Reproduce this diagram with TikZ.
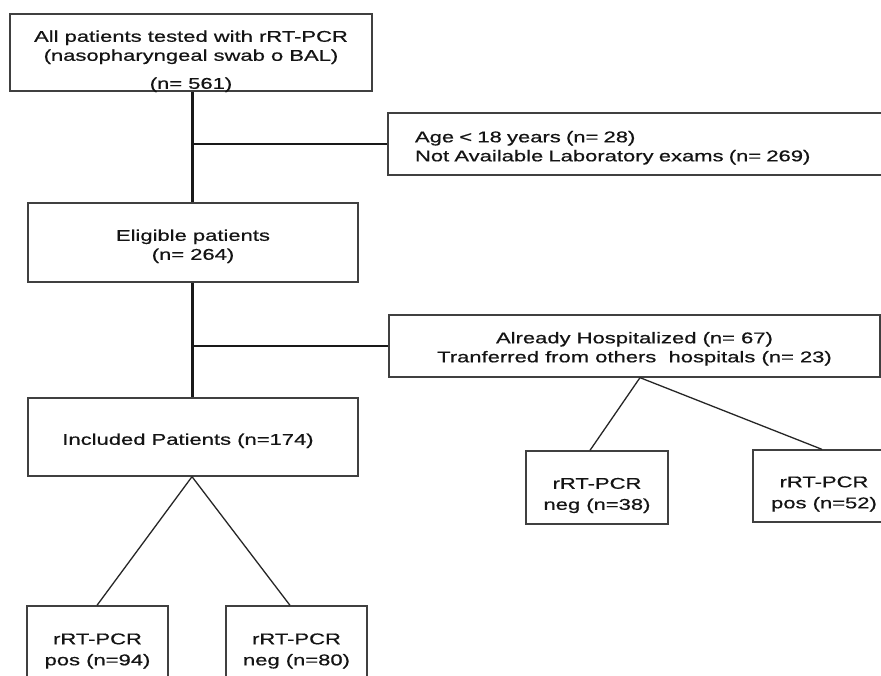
\documentclass[tikz,border=0pt]{standalone}
\usepackage{fontspec}
\setmainfont[FakeStretch=1.41,FakeBold=0.6]{Liberation Sans}
\newcommand\lowc[2]{\raisebox{-#1}[\height][\depth]{\begin{tabular}{@{}c@{}}#2\end{tabular}}}
\newcommand\lowl[2]{\raisebox{-#1}[\height][\depth]{\begin{tabular}{@{}l@{}}#2\end{tabular}}}
\begin{document}
\begin{tikzpicture}[x=1pt,y=-1pt,
  box/.style={draw=black!75, line width=1.3pt, rectangle, inner sep=0pt, align=center,
    font=\fontsize{15.6}{19}\selectfont, text=black!92},
  thickline/.style={line width=3pt, draw=black!90},
  branch/.style={line width=2pt, draw=black!90},
  diag/.style={line width=1.3pt, draw=black!85}]
\useasboundingbox (0,0) rectangle (881,675);
\fill[white] (0,0) rectangle (881,675);
\clip (0,0) rectangle (881,675);

\node[box, minimum width=362pt, minimum height=77pt] (all) at (191,52.5)
  {\lowc{9pt}{All patients tested with rRT-PCR\\(nasopharyngeal swab o BAL)\\[9pt](n= 561)}};
\node[box, minimum width=497pt, minimum height=62pt, text width=443pt, inner xsep=27pt, align=left] (excl1) at (636.5,144)
  {\lowl{4pt}{Age < 18 years (n= 28)\\Not Available Laboratory exams (n= 269)}};
\node[box, minimum width=330pt, minimum height=79pt] (elig) at (193,242.5)
  {\lowc{4pt}{Eligible patients\\(n= 264)}};
\node[box, minimum width=491pt, minimum height=62pt] (excl2) at (634.5,346)
  {\lowc{3pt}{Already Hospitalized (n= 67)\\Tranferred from others\ \ hospitals (n= 23)}};
\node[box, minimum width=330pt, minimum height=78pt] (incl) at (193,437)
  {\lowc{4pt}{\hspace*{-10pt}Included Patients (n=174)}};
\node[box, minimum width=141pt, minimum height=84pt] (pos94) at (97.5,648)
  {\lowc{3pt}{rRT-PCR\\[2pt]pos (n=94)}};
\node[box, minimum width=141pt, minimum height=84pt] (neg80) at (296.5,648)
  {\lowc{3pt}{rRT-PCR\\[2pt]neg (n=80)}};
\node[box, minimum width=142pt, minimum height=73pt] (neg38) at (597,487.5)
  {\lowc{8pt}{rRT-PCR\\[2pt]neg (n=38)}};
\node[box, minimum width=142pt, minimum height=72pt] (pos52) at (824,486)
  {\lowc{8pt}{rRT-PCR\\[2pt]pos (n=52)}};

\coordinate (j1) at (192,144);
\coordinate (j2) at (192,346);
\draw[thickline] (all.south -| j1) -- (elig.north -| j1);
\draw[branch] (j1) -- (excl1.west |- j1);
\draw[thickline] (elig.south -| j1) -- (incl.north -| j1);
\draw[branch] (j2) -- (excl2.west |- j2);

\draw[diag] (incl.south -| j1) -- ([xshift=-0.5pt]pos94.north);
\draw[diag] (incl.south -| j1) -- ([xshift=-6.5pt]neg80.north);
\draw[diag] ([xshift=5.5pt]excl2.south) -- ([xshift=-7pt]neg38.north);
\draw[diag] ([xshift=5.5pt]excl2.south) -- ([xshift=-2pt]pos52.north);
\end{tikzpicture}
\end{document}
